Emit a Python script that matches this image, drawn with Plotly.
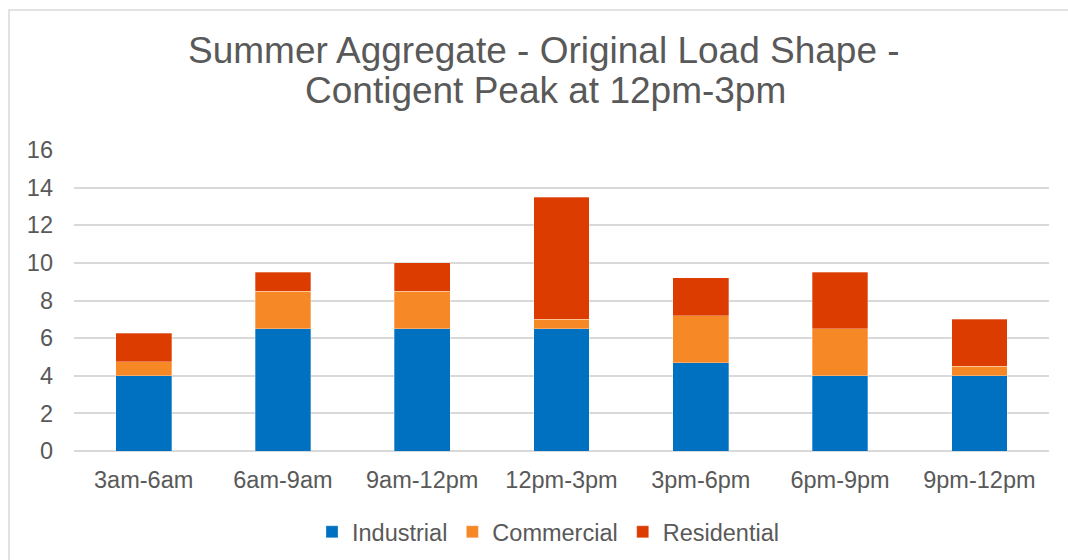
import plotly.graph_objects as go

# Time-of-day blocks and load per customer class
periods = ["3am-6am", "6am-9am", "9am-12pm", "12pm-3pm", "3pm-6pm", "6pm-9pm", "9pm-12pm"]
industrial = [4.0, 6.5, 6.5, 6.5, 4.7, 4.0, 4.0]
commercial = [0.75, 2.0, 2.0, 0.5, 2.5, 2.5, 0.5]
residential = [1.5, 1.0, 1.5, 6.5, 2.0, 3.0, 2.5]

y_ticks = [0, 2, 4, 6, 8, 10, 12, 14, 16]
title_lines = ["Summer Aggregate - Original Load Shape -", "Contigent Peak at 12pm-3pm"]

FONT = "Liberation Sans, Arial, sans-serif"
TEXT = "#595959"
GRID = "#D9D9D9"
FIG_W, FIG_H = 1068, 560

fig = go.Figure()
for name, vals, color in [
    ("Industrial", industrial, "#0070C0"),
    ("Commercial", commercial, "#F68826"),
    ("Residential", residential, "#DC3C00"),
]:
    fig.add_trace(go.Bar(
        name=name, x=periods, y=vals,
        marker=dict(color=color, line=dict(width=0.6, color="rgba(255,255,255,0.5)")),
    ))

# Plot area: x 74..1049 px, y 150..451 px
L, R, T, B = 74, FIG_W - 1049, 150, FIG_H - 451
W, H = FIG_W - L - R, FIG_H - T - B

def px_x(p):
    return (p - L) / W

def px_y(p):
    return (FIG_H - B - p) / H

fig.update_layout(
    width=FIG_W, height=FIG_H,
    margin=dict(l=L, r=R, t=T, b=B, autoexpand=False),
    paper_bgcolor="white", plot_bgcolor="white",
    barmode="stack", bargap=0.6,
    font=dict(family=FONT, color=TEXT, size=23.5),
    showlegend=True,
    legend=dict(
        orientation="h",
        xref="container", x=548 / FIG_W, xanchor="center",
        yref="container", y=(FIG_H - 532) / FIG_H, yanchor="middle",
        font=dict(size=23.5, color=TEXT),
        traceorder="normal", itemclick=False, itemdoubleclick=False,
    ),
    xaxis=dict(
        showgrid=False, showline=False, zeroline=False, automargin=False,
        tickfont=dict(size=23.5, color=TEXT),
        ticks="", ticklabelstandoff=12,
    ),
    yaxis=dict(
        range=[0, 16], tickvals=y_ticks, automargin=False,
        showgrid=True, gridcolor=GRID, gridwidth=1.5,
        zeroline=True, zerolinecolor=GRID, zerolinewidth=1.5,
        showline=False, ticks="",
        tickfont=dict(size=23.5, color=TEXT),
        ticklabelstandoff=20,
    ),
    shapes=[dict(
        type="rect", xref="paper", yref="paper",
        x0=px_x(9), x1=px_x(1075), y0=px_y(570), y1=px_y(10),
        line=dict(color=GRID, width=1.5), fillcolor="rgba(0,0,0,0)", layer="below",
    )],
    annotations=[
        dict(text=title_lines[0], xref="paper", yref="paper",
             x=px_x(544), y=px_y(51), xanchor="center", yanchor="middle",
             showarrow=False, font=dict(size=37, color=TEXT, family=FONT)),
        dict(text=title_lines[1], xref="paper", yref="paper",
             x=px_x(545), y=px_y(91), xanchor="center", yanchor="middle",
             showarrow=False, font=dict(size=37, color=TEXT, family=FONT)),
    ],
)

fig.write_html("out.html")
